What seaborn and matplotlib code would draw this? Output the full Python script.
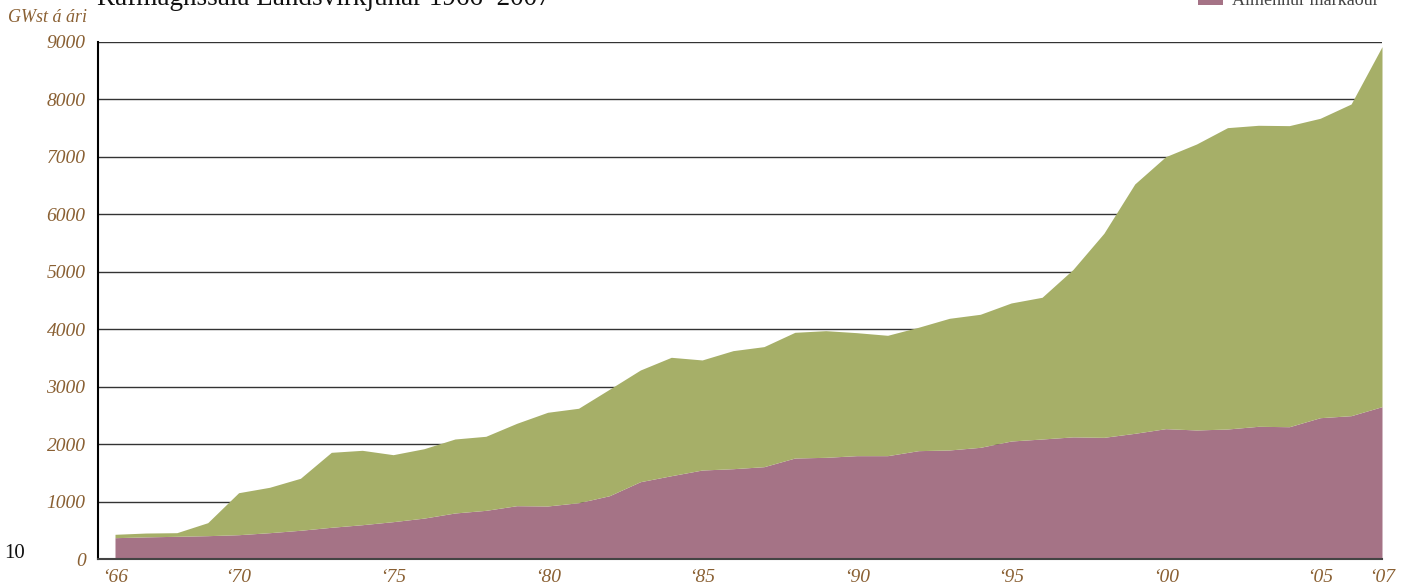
import matplotlib
matplotlib.use("Agg")
import matplotlib.pyplot as plt
import seaborn as sns
import numpy as np
from matplotlib.patches import Rectangle

years = list(range(1966, 2008))
almennur = [371, 385, 395, 406, 423, 458, 500, 552, 597, 650, 712, 801, 847, 928, 923,
            980, 1102, 1346, 1450, 1549, 1572, 1607, 1758, 1770, 1799, 1799, 1886, 1898,
            1944, 2054, 2089, 2126, 2118, 2188, 2269, 2246, 2263, 2310, 2303, 2460, 2495, 2652]
total = [430, 452, 458, 632, 1154, 1248, 1405, 1857, 1892, 1816, 1920, 2089, 2136, 2362, 2554,
         2624, 2955, 3290, 3511, 3465, 3627, 3697, 3946, 3975, 3940, 3894, 4034, 4190,
         4260, 4457, 4556, 5040, 5670, 6529, 7004, 7225, 7509, 7550, 7544, 7672, 7921, 8919]
storidja = [t - a for t, a in zip(total, almennur)]

title = "Rafmagnssala Landsvirkjunar 1966–2007"
ylabel = "GWst á ári"
legend_label = "Almennur markaður"
yticks = [0, 1000, 2000, 3000, 4000, 5000, 6000, 7000, 8000, 9000]
xticks = [1966, 1970, 1975, 1980, 1985, 1990, 1995, 2000, 2005, 2007]
xticklabels = ["‘66", "‘70", "‘75", "‘80", "‘85", "‘90", "‘95", "‘00", "‘05", "‘07"]

purple = "#a57386"
green = "#a6af68"
brown = "#8a6033"

sns.set_theme(style="white")
plt.rcParams['font.family'] = ['Liberation Serif', 'DejaVu Serif']

fig = plt.figure(figsize=(14.05, 5.87), dpi=100)
ax = fig.add_axes([98/1405, 1-559/587, (1382-98)/1405, (559-42)/587])

ax.stackplot(years, almennur, storidja, colors=[purple, green], linewidth=0, zorder=3)

ax.set_xlim(1965.45, 2007)
ax.set_ylim(0, 9000)
ax.set_yticks(yticks)
ax.set_yticklabels([str(v) for v in yticks], fontstyle='italic', color=brown, fontsize=14)
ax.set_xticks(xticks)
ax.set_xticklabels(xticklabels, fontstyle='italic', color=brown, fontsize=14)
ax.tick_params(axis='y', length=0, pad=9)
ax.tick_params(axis='x', length=0, pad=7)
ax.yaxis.grid(True, color="#333333", linewidth=1.0)
ax.set_axisbelow(True)
sns.despine(ax=ax, top=True, right=True)
ax.spines['left'].set_color('black')
ax.spines['left'].set_linewidth(1.5)
ax.spines['left'].set_zorder(4)
ax.spines['bottom'].set_color('#444444')
ax.spines['bottom'].set_linewidth(1.5)
ax.spines['bottom'].set_zorder(4)

fig.text(87/1405, 1-18/587, ylabel, ha='right', va='center', fontstyle='italic',
         color=brown, fontsize=13)
fig.text(97/1405, 1-5/587, title, ha='left', va='baseline', color='#111111', fontsize=19.5)
fig.text(4/1405, 1-554/587, "10", ha='left', va='center', color='#111111', fontsize=15)

# legend (partially cut at top, as in the reference)
fig.patches.append(Rectangle((1198/1405, 1-5/587), 25/1405, 14/587, transform=fig.transFigure,
                             facecolor=purple, edgecolor='none'))
fig.text(1232/1405, 1-5/587, legend_label, ha='left', va='baseline', color='#444444', fontsize=13)

fig.savefig("out.png", dpi=100)
